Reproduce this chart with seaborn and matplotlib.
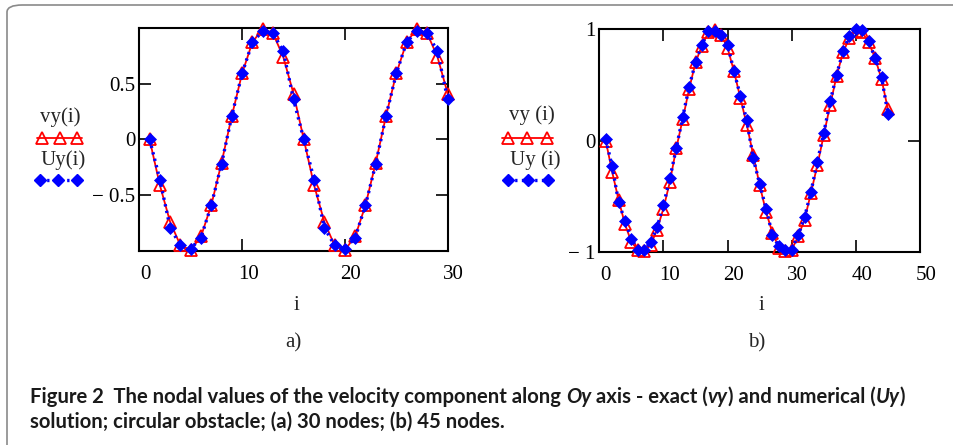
import matplotlib
matplotlib.use("Agg")
import matplotlib.pyplot as plt
import matplotlib.transforms as mtrans
from matplotlib.lines import Line2D
from matplotlib.patches import FancyBboxPatch
import pandas as pd
import seaborn as sns

# nodes
i_a = list(range(1, 31))
i_b = list(range(1, 46))

# panel a) 30 nodes - exact (vy) and numerical (Uy)
vy_a = [0.0, -0.41, -0.74, -0.95, -0.99, -0.87, -0.59, -0.21, 0.21, 0.59,
        0.87, 0.99, 0.95, 0.74, 0.41, 0.0, -0.41, -0.74, -0.95, -0.99,
        -0.87, -0.59, -0.21, 0.21, 0.59, 0.87, 0.99, 0.95, 0.74, 0.41]
Uy_a = [0.0, -0.36, -0.79, -0.95, -0.98, -0.88, -0.59, -0.22, 0.21, 0.59,
        0.87, 0.97, 0.95, 0.79, 0.36, 0.0, -0.36, -0.79, -0.95, -0.98,
        -0.88, -0.59, -0.22, 0.21, 0.59, 0.87, 0.97, 0.95, 0.79, 0.36]

# panel b) 45 nodes
vy_b = [0.0, -0.28, -0.53, -0.75, -0.91, -0.98, -0.99, -0.94, -0.80, -0.61,
        -0.37, -0.07, 0.19, 0.46, 0.70, 0.85, 0.97, 0.99, 0.95, 0.83,
        0.62, 0.38, 0.14, -0.13, -0.40, -0.64, -0.83, -0.96, -0.99, -0.98,
        -0.86, -0.71, -0.47, -0.22, 0.05, 0.32, 0.58, 0.79, 0.92, 0.98,
        0.97, 0.88, 0.74, 0.55, 0.28]
Uy_b = [0.01, -0.23, -0.55, -0.72, -0.88, -0.98, -0.98, -0.91, -0.78, -0.58,
        -0.34, -0.07, 0.21, 0.48, 0.70, 0.86, 0.98, 0.98, 0.95, 0.86,
        0.62, 0.40, 0.18, -0.16, -0.39, -0.61, -0.85, -0.95, -0.98, -0.98,
        -0.85, -0.69, -0.46, -0.19, 0.07, 0.35, 0.59, 0.80, 0.94, 1.0,
        0.99, 0.89, 0.74, 0.57, 0.24]

xticks_a = [0, 10, 20, 30]
yticks_a = [-0.5, 0, 0.5]
yticklabels_a = ["\u2212 0.5", "0", "0.5"]
xticks_b = [0, 10, 20, 30, 40, 50]
yticks_b = [-1, 0, 1]
yticklabels_b = ["\u2212 1", "0", "1"]

caption_1 = [("Figure 2  The nodal values of the velocity component along ", "normal"),
             ("Oy", "italic"), (" axis - exact (", "normal"), ("vy", "italic"),
             (") and numerical (", "normal"), ("Uy", "italic"), (")", "normal")]
caption_2 = "solution; circular obstacle; (a) 30 nodes; (b) 45 nodes."

RED = "#ff0000"
BLUE = "#0000ff"
W, H = 954, 445

sns.set_style("ticks")
plt.rcParams['font.family'] = ['Liberation Serif', 'DejaVu Serif']
plt.rcParams['font.size'] = 15

fig = plt.figure(figsize=(W / 100, H / 100), dpi=100)


def px(x, y):
    return x / W, 1 - y / H


# light grey rounded frame round the figure (only top and left edges show)
fig.patches.append(FancyBboxPatch((7 / W, 1 - 2000 / H), 3000 / W, 1995 / H,
                                  boxstyle="round,pad=0,rounding_size=0.016",
                                  transform=fig.transFigure, fill=False,
                                  ec="#8a8a8a", lw=1.2))

ax_a = fig.add_axes([139.3 / W, 1 - 251 / H, 308.4 / W, 223.3 / H])
ax_b = fig.add_axes([599.3 / W, 1 - 252 / H, 320.7 / W, 223 / H])

panels = [(ax_a, i_a, vy_a, Uy_a, xticks_a, yticks_a, yticklabels_a, 30),
          (ax_b, i_b, vy_b, Uy_b, xticks_b, yticks_b, yticklabels_b, 50)]

for ax, nodes, vy, uy, xt, yt, ytl, xmax in panels:
    df = pd.DataFrame({"i": nodes, "vy": vy, "Uy": uy})
    sns.lineplot(data=df, x="i", y="vy", ax=ax, color=RED, lw=1.3,
                 marker="^", ms=9, mfc="none", mec=RED, mew=1.3,
                 clip_on=False, zorder=3)
    sns.lineplot(data=df, x="i", y="Uy", ax=ax, color=BLUE, lw=2.4,
                 linestyle=(0, (0.7, 1.3)), marker="D", ms=6, mfc=BLUE,
                 mec=BLUE, mew=0.5, clip_on=False, zorder=4)
    ax.set_xlim(0, xmax)
    ax.set_ylim(-1, 1)
    ax.set_xticks(xt)
    ax.set_yticks(yt)
    ax.set_yticklabels(ytl)
    ax.set_xlabel("")
    ax.set_ylabel("")
    ax.tick_params(direction="in", length=8.5, width=1.2, top=True, right=True,
                   labelsize=15, colors="black")
    ax.tick_params(axis="x", pad=10)
    ax.tick_params(axis="y", pad=3)
    for s in ax.spines.values():
        s.set_visible(True)
        s.set_linewidth(1.5)
        s.set_color("black")
    shift = mtrans.ScaledTranslation(6 / 100, 0, fig.dpi_scale_trans)
    for lab in ax.get_xticklabels():
        lab.set_transform(lab.get_transform() + shift)

# axis names and panel letters
for x, y, s in [(296, 306, "i"), (293, 343, "a)"), (761, 306, "i"), (757, 343, "b)")]:
    fig.text(*px(x, y), s, ha="center", va="center", fontsize=15)

# hand-made legends (label above sample)
legends = [((60, 117, "vy(i)"), (63, 160, "Uy(i)"), (37, 82, [42, 60, 77], [40, 58, 77])),
           ((532, 115, "vy (i)"), (535, 160, "Uy (i)"), (502, 553, [508, 527, 547], [508, 528, 548]))]
for (vx, vyy, vs), (ux, uyy, us), (l0, l1, tri, dia) in legends:
    fig.text(*px(vx, vyy), vs, ha="center", va="center", fontsize=15)
    fig.text(*px(ux, uyy), us, ha="center", va="center", fontsize=15)
    fig.add_artist(Line2D([l0 / W, l1 / W], [1 - 138 / H] * 2, color=RED, lw=1.3,
                          transform=fig.transFigure))
    fig.add_artist(Line2D([t / W for t in tri], [1 - 138 / H] * 3, ls="none",
                          marker="^", ms=9, mfc="none", mec=RED, mew=1.3,
                          transform=fig.transFigure))
    fig.add_artist(Line2D([d / W for d in dia], [1 - 180 / H] * 3, color=BLUE, lw=2.4,
                          ls=(0, (0.7, 1.3)), marker="D", ms=6, mfc=BLUE, mec=BLUE,
                          transform=fig.transFigure))

# caption
cap_font = ['Lato', 'Open Sans', 'DejaVu Sans']
cap_size = 14.6
overlay = fig.add_axes([0, 0, 1, 1])
overlay.set_axis_off()
prev = overlay.text(*px(30, 403), caption_1[0][0], transform=fig.transFigure,
                    va="baseline", ha="left", fontsize=cap_size, fontweight="bold",
                    family=cap_font, color="#1a1a1a")
for piece, style in caption_1[1:]:
    prev = overlay.annotate(piece, xy=(1, 0), xycoords=prev, va="bottom", ha="left",
                            fontsize=cap_size, fontweight="bold", fontstyle=style,
                            family=cap_font, color="#1a1a1a")
overlay.text(*px(30, 428), caption_2, transform=fig.transFigure, va="baseline",
             ha="left", fontsize=cap_size, fontweight="bold", family=cap_font,
             color="#1a1a1a")

fig.savefig("out.png", dpi=100)
